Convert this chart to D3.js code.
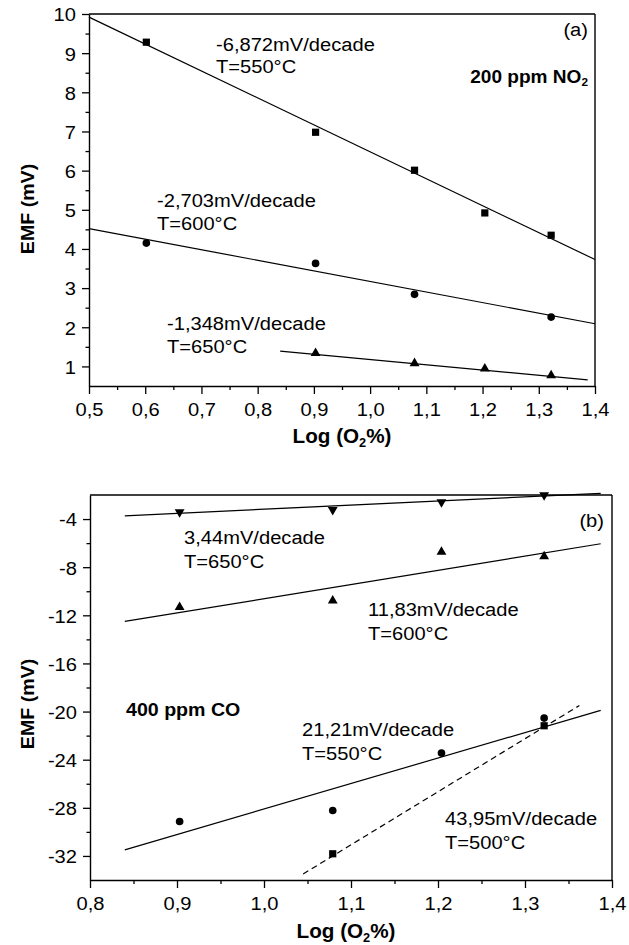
<!DOCTYPE html>
<html><head><meta charset="utf-8">
<script src="https://cdn.jsdelivr.net/npm/d3@7"></script>
<style>
body{margin:0;background:#fff}
svg{display:block}
text{font-family:"Liberation Sans",Arial,Helvetica,sans-serif;fill:#000}
</style>
</head><body>
<svg id="chart" width="629" height="945"></svg>
<script>
// ---------- Panel (a): 200 ppm NO2 ----------
const xTicksA = [0.5,0.6,0.7,0.8,0.9,1.0,1.1,1.2,1.3,1.4];
const yTicksA = [1,2,3,4,5,6,7,8,9,10];
const logO2A550 = [0.602, 0.903, 1.079, 1.204, 1.322];
const emfA550   = [9.28, 6.98, 6.01, 4.92, 4.35];
const logO2A600 = [0.602, 0.903, 1.079, 1.322];
const emfA600   = [4.15, 3.63, 2.84, 2.26];
const logO2A650 = [0.903, 1.079, 1.204, 1.322];
const emfA650   = [1.34, 1.08, 0.94, 0.77];
const fitA550 = [[0.5, 9.92], [1.4, 3.73]];
const fitA600 = [[0.5, 4.52], [1.4, 2.09]];
const fitA650 = [[0.84, 1.39], [1.387, 0.655]];

// ---------- Panel (b): 400 ppm CO ----------
const xTicksB = [0.8,0.9,1.0,1.1,1.2,1.3,1.4];
const yTicksB = [-32,-28,-24,-20,-16,-12,-8,-4];
const logO2B   = [0.903, 1.079, 1.204, 1.322];
const emfB650  = [-3.42, -3.23, -2.59, -2.0];
const emfB600  = [-11.32, -10.79, -6.74, -7.1];
const emfB550  = [-29.14, -28.22, -23.45, -20.54];
const logO2B500 = [1.079, 1.322];
const emfB500   = [-31.82, -21.18];
const fitB650 = [[0.84, -3.73], [1.387, -1.86]];
const fitB600 = [[0.84, -12.51], [1.387, -6.05]];
const fitB550 = [[0.84, -31.49], [1.387, -19.9]];
const fitB500 = [[1.045, -33.5], [1.3625, -19.5]];

const S = 1.06;      // horizontal stretch of the original typeface
const FS = 19;

const svg = d3.select("#chart");
svg.append("rect").attr("width",629).attr("height",945).attr("fill","#fff");

function txt(g, x, y, parts, opt={}) {
  const t = g.append("text")
    .attr("transform", `translate(${x},${y})${opt.rot?` rotate(${opt.rot})`:""} scale(${S},1)`)
    .attr("text-anchor", opt.anchor || "start")
    .style("font-size", (opt.size||FS)+"px")
    .style("font-weight", opt.bold ? "bold" : "normal");
  if (typeof parts === "string") parts = [[parts]];
  let sub = false;
  parts.forEach(p => {
    const ts = t.append("tspan").text(p[0]);
    if (p[1] === "sub") { ts.style("font-size","0.62em").attr("dy","0.3em"); sub = true; }
    else if (sub) { ts.attr("dy","-0.186em"); sub = false; }
  });
  return t;
}

const fmtX = d => d3.format(".1f")(d).replace(".", ",");
const fmtY = d => String(d);

function panel(x, y, xMajor, xMinor, yMajor, yMinor) {
  const g = svg.append("g");
  const [x0, x1] = x.range();
  const [y0, y1] = y.range();
  g.append("line").attr("x1",x0).attr("x2",x1).attr("y1",y1).attr("y2",y1)
    .attr("stroke","#000").attr("stroke-width",1.4);
  g.append("line").attr("x1",x1).attr("x2",x1).attr("y1",y1).attr("y2",y0)
    .attr("stroke","#000").attr("stroke-width",1.4);
  g.append("g").attr("transform",`translate(0,${y0})`)
    .call(d3.axisBottom(x).tickValues(xMinor).tickSize(4).tickSizeOuter(0).tickFormat(""))
    .call(a => a.select(".domain").remove());
  g.append("g").attr("transform",`translate(${x0},0)`)
    .call(d3.axisLeft(y).tickValues(yMinor).tickSize(3.5).tickSizeOuter(0).tickFormat(""))
    .call(a => a.select(".domain").remove());
  const ax = g.append("g").attr("transform",`translate(0,${y0})`)
    .call(d3.axisBottom(x).tickValues(xMajor).tickSize(8).tickSizeOuter(0).tickFormat(fmtX));
  ax.selectAll("text").attr("y",30).attr("dy",null)
    .attr("transform",`scale(${S},1)`).style("font-size",FS+"px")
    .style("font-family",'"Liberation Sans",Arial,sans-serif').attr("fill","#000");
  const ay = g.append("g").attr("transform",`translate(${x0},0)`)
    .call(d3.axisLeft(y).tickValues(yMajor).tickSize(7).tickSizeOuter(0).tickFormat(fmtY));
  ay.selectAll("text").attr("x",-13/S).attr("dy","0.36em")
    .attr("transform",`scale(${S},1)`).style("font-size",FS+"px")
    .style("font-family",'"Liberation Sans",Arial,sans-serif').attr("fill","#000");
  g.selectAll(".domain").attr("stroke-width",1.4);
  g.selectAll(".tick line").attr("stroke-width",1.3);
  return g;
}

function fit(g, x, y, pts, dashed) {
  g.append("path").datum(pts)
    .attr("d", d3.line().x(d=>x(d[0])).y(d=>y(d[1])))
    .attr("fill","none").attr("stroke","#000").attr("stroke-width",1.2)
    .attr("stroke-dasharray", dashed ? "6,4" : null);
}

function marks(g, x, y, xs, ys, type) {
  const sym = {
    square: d3.symbol().type(d3.symbolSquare).size(52),
    circle: d3.symbol().type(d3.symbolCircle).size(46),
    up:     d3.symbol().type(d3.symbolTriangle).size(42),
    down:   d3.symbol().type(d3.symbolTriangle).size(42)
  }[type];
  g.selectAll(null).data(xs.map((v,i)=>[v, ys[i]])).enter().append("path")
    .attr("d", sym)
    .attr("transform", d => `translate(${x(d[0])},${y(d[1])})${type==="down"?" rotate(180)":""}`)
    .attr("fill","#000");
}

// ---------- Panel (a) ----------
const xA = d3.scaleLinear([0.5, 1.4], [89, 595]);
const yA = d3.scaleLinear([0.5, 10], [386, 14]);
const xMinorA = d3.range(0.55, 1.4, 0.1);
const yMinorA = d3.range(1.5, 10, 1);
const gA = panel(xA, yA, xTicksA, xMinorA, yTicksA, yMinorA);
fit(gA, xA, yA, fitA550); fit(gA, xA, yA, fitA600); fit(gA, xA, yA, fitA650);
marks(gA, xA, yA, logO2A550, emfA550, "square");
marks(gA, xA, yA, logO2A600, emfA600, "circle");
marks(gA, xA, yA, logO2A650, emfA650, "up");

txt(gA, 216, 51, "-6,872mV/decade");
txt(gA, 216, 73, "T=550°C");
txt(gA, 157, 207, "-2,703mV/decade");
txt(gA, 157, 230, "T=600°C");
txt(gA, 167, 330, "-1,348mV/decade");
txt(gA, 167, 353, "T=650°C");
txt(gA, 588, 36, "(a)", {anchor:"end"});
txt(gA, 588, 83, [["200 ppm NO"],["2","sub"]], {anchor:"end", bold:true, size:18});
txt(gA, 342, 443, [["Log (O"],["2","sub"],["%)"]], {anchor:"middle", bold:true, size:19.5});
txt(gA, 34, 209, "EMF (mV)", {anchor:"middle", bold:true, size:18.5, rot:-90});

// ---------- Panel (b) ----------
const xB = d3.scaleLinear([0.8, 1.4], [90, 612]);
const yB = d3.scaleLinear([-34, -2], [880, 495]);
const xMinorB = d3.range(0.85, 1.4, 0.1);
const yMinorB = d3.range(-30, -2, 4);
const gB = panel(xB, yB, xTicksB, xMinorB, yTicksB, yMinorB);
fit(gB, xB, yB, fitB650); fit(gB, xB, yB, fitB600); fit(gB, xB, yB, fitB550);
fit(gB, xB, yB, fitB500, true);
marks(gB, xB, yB, logO2B, emfB650, "down");
marks(gB, xB, yB, logO2B, emfB600, "up");
marks(gB, xB, yB, logO2B, emfB550, "circle");
marks(gB, xB, yB, logO2B500, emfB500, "square");

txt(gB, 604, 527, "(b)", {anchor:"end"});
txt(gB, 184, 544, "3,44mV/decade");
txt(gB, 184, 568, "T=650°C");
txt(gB, 368, 616, "11,83mV/decade");
txt(gB, 368, 640, "T=600°C");
txt(gB, 126, 716, "400 ppm CO", {bold:true, size:18.5});
txt(gB, 302, 736, "21,21mV/decade");
txt(gB, 302, 760, "T=550°C");
txt(gB, 445, 825, "43,95mV/decade");
txt(gB, 445, 849, "T=500°C");
txt(gB, 346, 938, [["Log (O"],["2","sub"],["%)"]], {anchor:"middle", bold:true, size:19.5});
txt(gB, 34, 704, "EMF (mV)", {anchor:"middle", bold:true, size:18.5, rot:-90});
</script>
</body></html>
